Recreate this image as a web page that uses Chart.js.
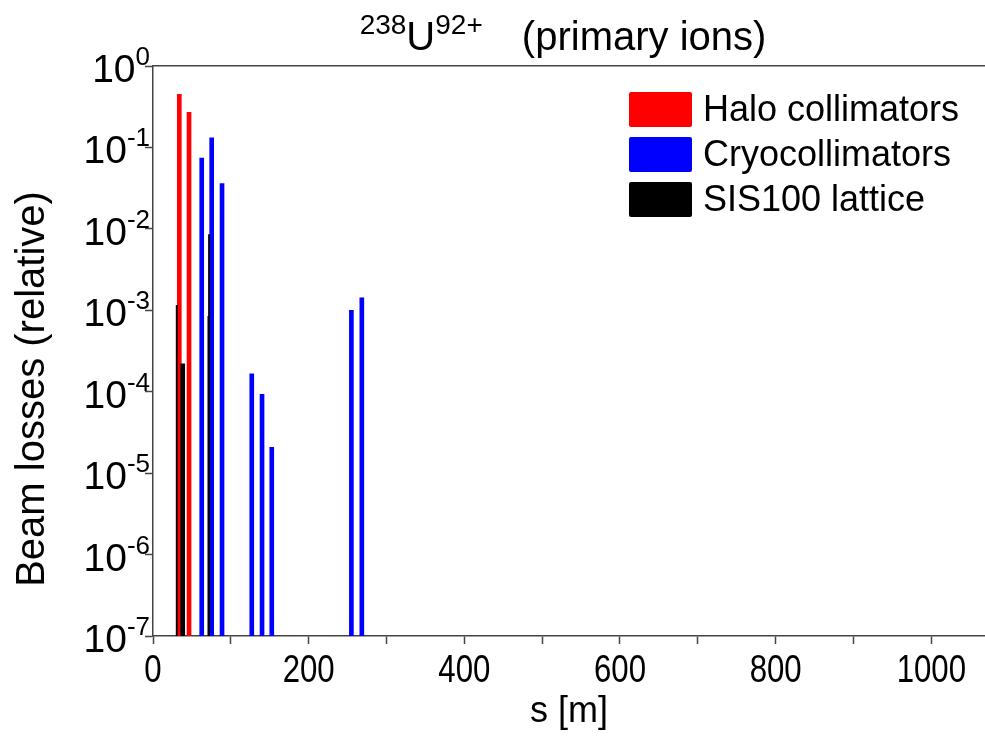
<!DOCTYPE html>
<html>
<head>
<meta charset="utf-8">
<script src="https://cdn.jsdelivr.net/npm/chart.js@4.4.0/dist/chart.umd.min.js"></script>
<style>
  html, body { margin: 0; padding: 0; background: #fff; }
  canvas { display: block; }
</style>
</head>
<body>
<canvas id="lossChart" width="985" height="747"></canvas>
<script>
const FONT = "'Liberation Sans', Arial, Helvetica, sans-serif";

// position along the ring [m] and relative beam loss
const haloS = [33.8, 46.3];
const haloLoss = [0.45, 0.27];
const cryoS = [62.6, 75.4, 88.7, 126.9, 140.1, 152.6, 254.9, 268.3];
const cryoLoss = [0.074, 0.131, 0.036, 1.66e-4, 9.3e-5, 2.08e-5, 1.0e-3, 1.42e-3];
const latticeS = [38.2];
const latticeLoss = [2.2e-4];
const latticeThinS = [30.5, 39.9, 71.2, 72.0];
const latticeThinLoss = [1.15e-3, 1.5e-4, 8.4e-4, 8.5e-3];

const xMajorTicks = [0, 200, 400, 600, 800, 1000];
const xMinorTicks = [100, 300, 500, 700, 900];
const yExponents = [0, -1, -2, -3, -4, -5, -6, -7];
const legendLabels = ['Halo collimators', 'Cryocollimators', 'SIS100 lattice'];
const legendColors = ['#ff0000', '#0000ff', '#000000'];

const toPoints = (xs, ys) => xs.map((s, i) => ({ x: s, y: ys[i] }));

// draws text pieces, some raised as superscripts; {gap} adds blank room
function drawRich(ctx, parts, x, y, align, baseSize, supSize, raise) {
  const widths = parts.map(p => {
    if (p.gap) return p.gap;
    ctx.font = `${p.sup ? supSize : baseSize}px ${FONT}`;
    return ctx.measureText(p.text).width;
  });
  const total = widths.reduce((a, b) => a + b, 0);
  let cx = align === 'right' ? x - total : align === 'center' ? x - total / 2 : x;
  ctx.textAlign = 'left';
  ctx.textBaseline = 'alphabetic';
  parts.forEach((p, i) => {
    if (!p.gap) {
      ctx.font = `${p.sup ? supSize : baseSize}px ${FONT}`;
      ctx.fillText(p.text, cx, p.sup ? y - raise : y);
    }
    cx += widths[i];
  });
}

const decorations = {
  id: 'decorations',
  afterDraw(chart) {
    const ctx = chart.ctx;
    const area = chart.chartArea;
    const xScale = chart.scales.x;
    const yScale = chart.scales.y;
    ctx.save();
    ctx.fillStyle = '#000';

    // title
    drawRich(ctx, [
      { text: '238', sup: true },
      { text: 'U', sup: false },
      { text: '92+', sup: true },
      { gap: 28 },
      { text: ' (primary ions)', sup: false }
    ], (area.left + area.right) / 2 - 6, 50, 'center', 40, 28, 16);

    // y tick labels 10^n
    yExponents.forEach(e => {
      const py = yScale.getPixelForValue(Math.pow(10, e));
      drawRich(ctx, [
        { text: '10', sup: false },
        { text: String(e), sup: true }
      ], area.left - 3, py + 16, 'right', 39, 26, 17);
    });

    // x tick labels, in a condensed face like the original
    xMajorTicks.forEach(v => {
      const px = xScale.getPixelForValue(v);
      ctx.save();
      ctx.translate(px, area.bottom + 46);
      ctx.scale(0.82, 1);
      ctx.font = `38px ${FONT}`;
      ctx.textAlign = 'center';
      ctx.textBaseline = 'alphabetic';
      ctx.fillText(String(v), 0, 0);
      ctx.restore();
    });

    // y axis title, a little below the middle as in the original
    ctx.save();
    ctx.translate(33, 389);
    ctx.rotate(-Math.PI / 2);
    ctx.font = `40px ${FONT}`;
    ctx.textAlign = 'center';
    ctx.textBaseline = 'middle';
    ctx.fillText('Beam losses (relative)', 0, 0);
    ctx.restore();

    // legend
    const lx = area.left + 476;
    legendLabels.forEach((label, i) => {
      const top = area.top + 26 + i * 45;
      ctx.fillStyle = legendColors[i];
      ctx.beginPath();
      ctx.roundRect(lx, top, 63, 35, 2);
      ctx.fill();
      ctx.fillStyle = '#000';
      ctx.font = `36px ${FONT}`;
      ctx.textAlign = 'left';
      ctx.textBaseline = 'middle';
      ctx.fillText(label, lx + 74, top + 19);
    });
    ctx.restore();
  }
};

const axisColor = '#444';

new Chart(document.getElementById('lossChart'), {
  type: 'bar',
  data: {
    datasets: [
      { label: legendLabels[0], data: toPoints(haloS, haloLoss), backgroundColor: legendColors[0], barThickness: 4, order: 2 },
      { label: legendLabels[1], data: toPoints(cryoS, cryoLoss), backgroundColor: legendColors[1], barThickness: 4, order: 3 },
      { label: legendLabels[2], data: toPoints(latticeS, latticeLoss), backgroundColor: legendColors[2], barThickness: 4, order: 0 },
      { label: legendLabels[2], data: toPoints(latticeThinS, latticeThinLoss), backgroundColor: legendColors[2], barThickness: 1.2, order: 1 }
    ]
  },
  options: {
    responsive: false,
    animation: false,
    devicePixelRatio: 1,
    layout: { padding: { top: 66, right: 0, left: 0, bottom: 0 } },
    datasets: { bar: { grouped: false } },
    plugins: {
      legend: { display: false },
      tooltip: { enabled: false }
    },
    scales: {
      x: {
        type: 'linear',
        position: 'bottom',
        min: 0,
        max: 1069,
        offset: false,
        afterBuildTicks: scale => {
          scale.ticks = xMajorTicks.concat(xMinorTicks).sort((a, b) => a - b).map(v => ({ value: v }));
        },
        afterFit: scale => { scale.height = 111; },
        ticks: { display: false },
        grid: {
          offset: false,
          drawOnChartArea: false,
          drawTicks: true,
          tickLength: 8,
          color: axisColor,
          tickWidth: 1.5
        },
        border: { display: true, color: axisColor, width: 1.5 },
        title: {
          display: true,
          text: 's [m]',
          color: '#000',
          font: { family: FONT, size: 36 },
          padding: { top: 4, bottom: 13 }
        }
      },
      x2: {
        type: 'linear',
        position: 'top',
        min: 0,
        max: 1069,
        afterFit: scale => { scale.height = 0; },
        ticks: { display: false },
        grid: { display: false },
        border: { display: true, color: axisColor, width: 1.5 }
      },
      y: {
        type: 'logarithmic',
        position: 'left',
        min: 1e-7,
        max: 1,
        afterBuildTicks: scale => {
          scale.ticks = yExponents.map(e => ({ value: Math.pow(10, e) }));
        },
        afterFit: scale => { scale.width = 153; },
        ticks: { display: false },
        grid: {
          drawOnChartArea: false,
          drawTicks: true,
          tickLength: 8,
          color: axisColor,
          tickWidth: 1.5
        },
        border: { display: true, color: axisColor, width: 1.5 }
      }
    }
  },
  plugins: [decorations]
});
</script>
</body>
</html>
